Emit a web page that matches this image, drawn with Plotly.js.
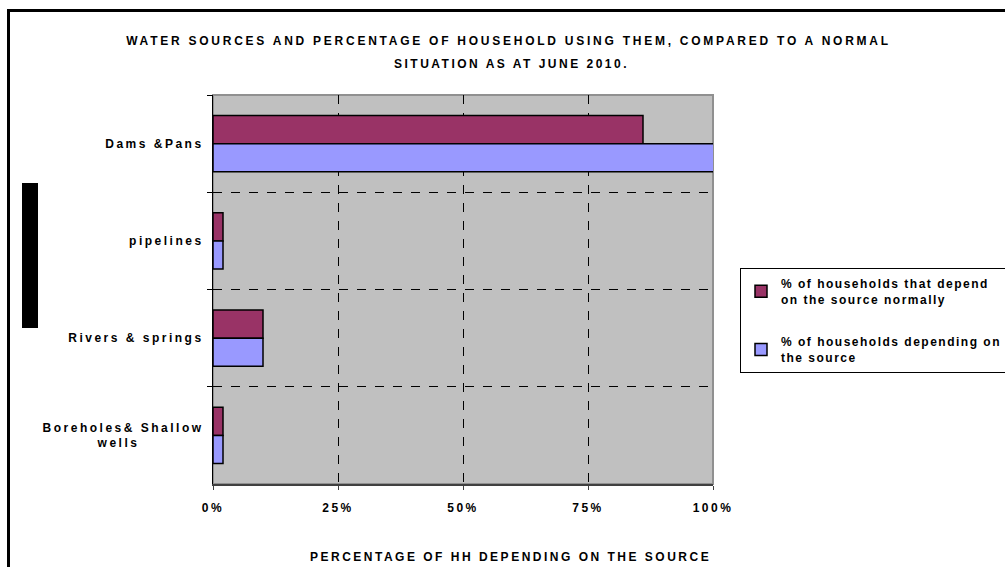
<!DOCTYPE html>
<html>
<head>
<meta charset="utf-8">
<script src="https://cdn.plot.ly/plotly-3.0.1.min.js"></script>
<style>
  html, body { margin: 0; padding: 0; background: #ffffff; overflow: hidden; }
  #frame { position: absolute; left: 7px; top: 9px; width: 1100px; height: 700px; border: 3px solid #000; box-sizing: border-box; }
  #blk { position: absolute; left: 22px; top: 183px; width: 16px; height: 145px; background: #000; }
  #chart { position: absolute; left: 0; top: 0; width: 1005px; height: 567px; }
  text { letter-spacing: 2.5px; }
  text.gtitle { letter-spacing: 2.75px; }
  text.legendtext { letter-spacing: 1.5px; }
</style>
</head>
<body>
<div id="frame"></div>
<div id="blk"></div>
<div id="chart"></div>
<script>
const categories = ["Dams &Pans", "pipelines", "Rivers & springs", "Boreholes& Shallow<br>wells\u00a0\u00a0\u00a0\u00a0\u00a0\u00a0\u00a0\u00a0\u00a0\u00a0\u00a0"];
const seriesNormalName = "% of households that depend<br>on the source normally";
const seriesNowName = "% of households depending on<br>the source";
const normalValues = [0.86, 0.02, 0.10, 0.02];
const nowValues = [1.01, 0.02, 0.10, 0.02];
const xTickVals = [0, 0.25, 0.5, 0.75, 1];
const xTickText = ["0%", "25%", "50%", "75%", "100%"];
const titleLine1 = "WATER SOURCES AND PERCENTAGE OF HOUSEHOLD USING THEM, COMPARED TO A NORMAL";
const titleLine2 = "SITUATION AS AT JUNE 2010.";
const xTitle = "PERCENTAGE OF HH DEPENDING ON THE SOURCE";

const fam = "Liberation Sans, Arial, sans-serif";
const f12 = {family: fam, size: 12, color: "#000", weight: 700};

const traces = [
  {type: "bar", orientation: "h", name: seriesNormalName, y: categories, x: normalValues, legendgroup: "a",
   marker: {color: "#993366", line: {color: "#000", width: 1.5}}},
  {type: "bar", orientation: "h", name: seriesNowName, y: categories, x: nowValues, legendgroup: "b",
   marker: {color: "#9999FF", line: {color: "#000", width: 1.5}}}
];

const layout = {
  width: 1005, height: 567,
  paper_bgcolor: "rgba(0,0,0,0)",
  plot_bgcolor: "#C0C0C0",
  margin: {l: 213, r: 292, t: 95, b: 83, autoexpand: false},
  barmode: "group", bargap: 0.42, bargroupgap: 0,
  font: f12,
  title: {text: titleLine1, x: 0.506, xanchor: "center", yref: "container", y: 0.935, yanchor: "top", font: f12},
  xaxis: {range: [0, 1], tickvals: xTickVals, ticktext: xTickText, showgrid: true,
          gridcolor: "#000", griddash: "dash", gridwidth: 1, zeroline: false,
          showline: true, linecolor: "#404040", linewidth: 2, ticks: "outside", ticklen: 4, tickcolor: "#404040",
          ticklabelstandoff: 8, tickfont: f12, fixedrange: true},
  yaxis: {type: "category", autorange: "reversed", tickson: "boundaries", showgrid: true,
          gridcolor: "#000", griddash: "dash", gridwidth: 1,
          showline: true, linecolor: "#000", linewidth: 1, ticks: "outside", ticklen: 5, tickcolor: "#000",
          ticklabelstandoff: 6, tickfont: f12, fixedrange: true},
  annotations: [
    {text: titleLine2, xref: "paper", yref: "paper", x: 0.597, y: 1.0797, xanchor: "center", yanchor: "middle",
     showarrow: false, font: f12},
    {text: xTitle, xref: "paper", yref: "paper", x: 0.595, y: -0.188, xanchor: "center", yanchor: "middle",
     showarrow: false, font: f12}
  ],
  shapes: [{type: "rect", xref: "x domain", yref: "y domain", x0: 0, x1: 1, y0: 0, y1: 1,
            line: {color: "#909090", width: 2}, layer: "below"}],
  legend: {x: 1.054, xanchor: "left", y: 0.555, yanchor: "top", bgcolor: "#fff",
           bordercolor: "#000", borderwidth: 1, traceorder: "grouped", tracegroupgap: 24,
           font: f12},
  showlegend: true
};

Plotly.newPlot("chart", traces, layout, {displayModeBar: false, staticPlot: true});
</script>
</body>
</html>
